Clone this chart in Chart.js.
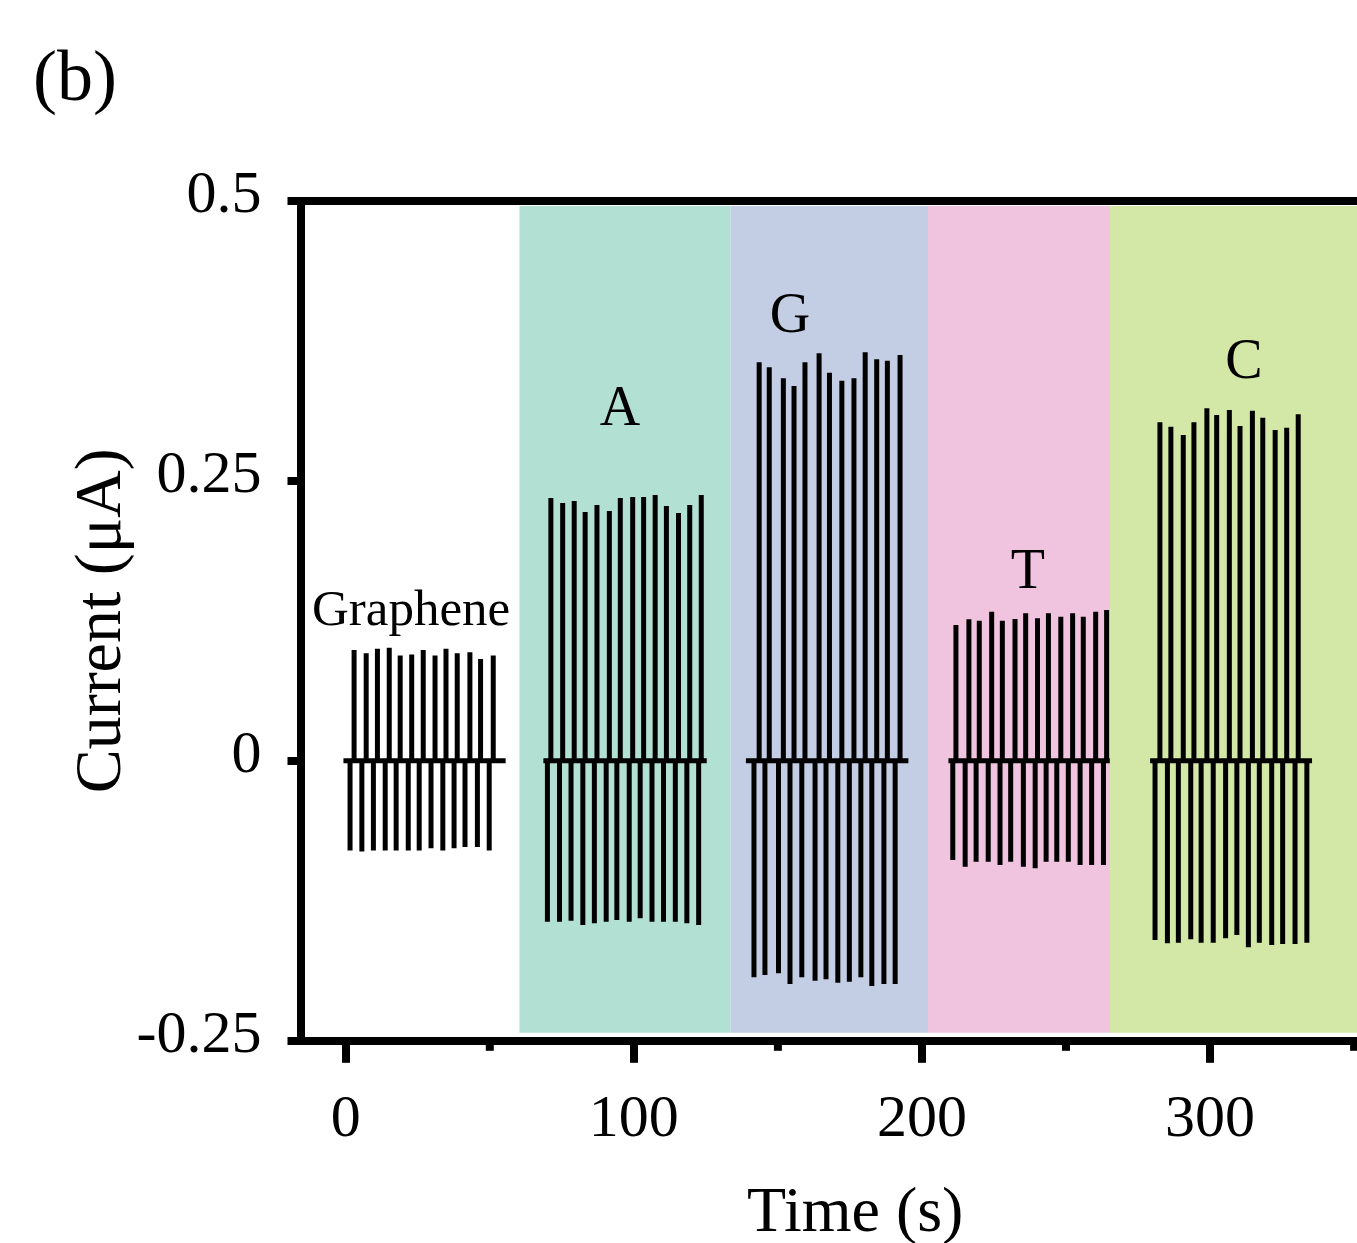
<!DOCTYPE html>
<html><head><meta charset="utf-8">
<script src="https://cdn.jsdelivr.net/npm/chart.js@4.4.0/dist/chart.umd.min.js"></script>
<style>html,body{margin:0;padding:0;overflow:hidden;background:#fff;width:1357px;height:1243px}canvas{display:block}</style>
</head><body><canvas id="c" width="1410" height="1243"></canvas>
<script>
const FONT = '"Liberation Serif", "Times New Roman", serif';

// ---- axis ticks ----
const xTickValues = [0, 100, 200, 300];
const xMinorTickValues = [50, 150, 250, 350];
const yTickValues = [-0.25, 0, 0.25, 0.5];
const yTickLabels = ['-0.25', '0', '0.25', '0.5'];

// ---- shaded analyte regions (time, s) ----
const regionNames = ['A', 'G', 'T', 'C'];
const regionStarts = [60.3, 133.6, 202.1, 265.3];
const regionEnds = [133.6, 202.1, 265.3, 400];
const regionTop = 0.4954;
const regionBottom = -0.2428;
const regionColors = ['#b2e0d2', '#c3cde3', '#f0c3df', '#d3e8a6'];

// ---- Graphene ----
const grBase = [-0.8, 55.5];
const grUpT = [2.9, 7.1, 11.0, 15.1, 18.9, 22.9, 26.9, 31.0, 34.8, 38.7, 43.1, 46.8, 51.2];
const grUpV = [0.099, 0.096, 0.100, 0.101, 0.094, 0.095, 0.099, 0.094, 0.100, 0.096, 0.097, 0.091, 0.094];
const grDnT = [1.5, 5.6, 9.6, 13.7, 17.5, 21.7, 25.5, 29.6, 33.7, 37.6, 41.4, 45.7, 49.8];
const grDnV = [-0.080, -0.081, -0.080, -0.080, -0.080, -0.080, -0.080, -0.078, -0.080, -0.078, -0.077, -0.077, -0.080];

// ---- A ----
const aBase = [68.6, 125.3];
const aUpT = [71.2, 75.3, 79.3, 83.1, 87.2, 91.5, 95.3, 99.6, 103.4, 107.4, 111.3, 115.5, 119.4, 123.4];
const aUpV = [0.2346, 0.2302, 0.2320, 0.2221, 0.2284, 0.2230, 0.2346, 0.2355, 0.2355, 0.2373, 0.2275, 0.2213, 0.2284, 0.2373];
const aDnT = [70.0, 74.2, 78.2, 82.3, 86.3, 90.4, 94.1, 98.4, 102.2, 106.3, 110.3, 114.4, 118.4, 122.5];
const aDnV = [-0.1437, -0.1437, -0.1428, -0.1466, -0.1451, -0.1437, -0.1421, -0.1437, -0.1406, -0.1437, -0.1437, -0.1437, -0.1451, -0.1466];

// ---- G ----
const gBase = [138.9, 195.3];
const gUpT = [143.5, 147.0, 151.9, 155.6, 159.4, 164.3, 167.9, 172.2, 176.4, 180.3, 184.3, 188.0, 192.4];
const gUpV = [0.3558, 0.3513, 0.3415, 0.3346, 0.3558, 0.3638, 0.3465, 0.3394, 0.3415, 0.3647, 0.3585, 0.3572, 0.3623];
const gDnT = [141.7, 145.5, 150.2, 154.2, 158.3, 162.9, 166.7, 170.8, 174.8, 178.8, 182.6, 186.8, 190.7];
const gDnV = [-0.1933, -0.1913, -0.1897, -0.1993, -0.1933, -0.1963, -0.1951, -0.1981, -0.1972, -0.1933, -0.2011, -0.1993, -0.1993];

// ---- T ----
const tBase = [209.2, 265.2];
const tUpT = [211.8, 216.3, 219.9, 224.2, 227.9, 232.3, 236.0, 240.1, 243.9, 248.2, 252.3, 256.0, 260.3, 264.1];
const tUpV = [0.1213, 0.1263, 0.1251, 0.1331, 0.1251, 0.1266, 0.1317, 0.1272, 0.1317, 0.1287, 0.1317, 0.1287, 0.1331, 0.1346];
const tDnT = [210.7, 215.0, 218.8, 223.0, 227.1, 230.8, 235.2, 239.3, 243.1, 246.8, 250.8, 254.9, 258.9, 263.0];
const tDnV = [-0.0886, -0.0946, -0.0901, -0.0901, -0.0930, -0.0901, -0.0946, -0.0960, -0.0901, -0.0901, -0.0901, -0.0930, -0.0930, -0.0930];

// ---- C ----
const cBase = [279.2, 335.4];
const cUpT = [282.6, 286.4, 290.7, 294.4, 298.9, 302.3, 306.7, 310.4, 314.7, 318.3, 322.6, 326.6, 330.6];
const cUpV = [0.3022, 0.2983, 0.2909, 0.3022, 0.3147, 0.3088, 0.3132, 0.2989, 0.3126, 0.3063, 0.2954, 0.2974, 0.3094];
const cDnT = [280.9, 285.2, 289.0, 293.3, 296.9, 301.1, 305.4, 309.3, 313.3, 317.1, 321.4, 325.2, 329.5, 333.6];
const cDnV = [-0.1600, -0.1629, -0.1624, -0.1594, -0.1624, -0.1624, -0.1585, -0.1555, -0.1665, -0.1624, -0.1645, -0.1636, -0.1636, -0.1624];

// ---- annotation labels ----
const annoText = ['Graphene', 'A', 'G', 'T', 'C'];
const annoX = [22.7, 95.2, 154.2, 236.8, 311.8];
const annoY = [0.1213, 0.2998, 0.3829, 0.1543, 0.3418];

function buildSeries(base, upT, upV, dnT, dnV) {
  const ev = upT.map((t, i) => ({ t, v: upV[i] }))
    .concat(dnT.map((t, i) => ({ t, v: dnV[i] })))
    .sort((a, b) => a.t - b.t);
  const pts = [{ x: base[0], y: 0 }];
  ev.forEach(e => { pts.push({ x: e.t, y: 0 }, { x: e.t, y: e.v }, { x: e.t, y: 0 }); });
  pts.push({ x: base[1], y: 0 });
  return pts;
}

const seriesDefs = [
  ['Graphene', grBase, grUpT, grUpV, grDnT, grDnV],
  ['A', aBase, aUpT, aUpV, aDnT, aDnV],
  ['G', gBase, gUpT, gUpV, gDnT, gDnV],
  ['T', tBase, tUpT, tUpV, tDnT, tDnV],
  ['C', cBase, cUpT, cUpV, cDnT, cDnV]
];

const datasets = seriesDefs.map(d => ({
  label: d[0],
  data: buildSeries(d[1], d[2], d[3], d[4], d[5]),
  showLine: true,
  borderColor: '#000',
  backgroundColor: '#000',
  borderWidth: 5,
  pointRadius: 0,
  borderCapStyle: 'butt',
  borderJoinStyle: 'miter',
  tension: 0,
  fill: false
}));

const X_MIN = -15.7, X_MAX = 369.4;

const deco = {
  id: 'deco',
  beforeDraw(chart) {
    const { ctx, chartArea: a, scales: { x, y } } = chart;
    ctx.save();
    ctx.fillStyle = '#fff';
    ctx.fillRect(0, 0, chart.width, chart.height);
    ctx.beginPath();
    ctx.rect(a.left, a.top, a.right - a.left, a.bottom - a.top);
    ctx.clip();
    const y0 = y.getPixelForValue(regionTop), y1 = y.getPixelForValue(regionBottom);
    regionStarts.forEach((s, i) => {
      const x0 = x.getPixelForValue(s), x1 = x.getPixelForValue(regionEnds[i]);
      ctx.fillStyle = regionColors[i];
      ctx.fillRect(x0, y0, x1 - x0, y1 - y0);
    });
    ctx.restore();
  },
  afterDraw(chart) {
    const { ctx, chartArea: a, scales: { x, y } } = chart;
    ctx.save();
    // minor x ticks
    ctx.strokeStyle = '#000';
    ctx.lineWidth = 8;
    xMinorTickValues.forEach(v => {
      const px = x.getPixelForValue(v);
      ctx.beginPath();
      ctx.moveTo(px, a.bottom);
      ctx.lineTo(px, a.bottom + 10);
      ctx.stroke();
    });
    // annotations
    ctx.fillStyle = '#000';
    ctx.textAlign = 'center';
    ctx.textBaseline = 'alphabetic';
    annoText.forEach((t, i) => {
      ctx.font = (i === 0 ? '51px ' : '56px ') + FONT;
      ctx.fillText(t, x.getPixelForValue(annoX[i]), y.getPixelForValue(annoY[i]));
    });
    // panel label
    ctx.textAlign = 'left';
    ctx.font = '72px ' + FONT;
    ctx.fillText('(b)', 33, 100);
    ctx.restore();
  }
};

new Chart(document.getElementById('c'), {
  type: 'scatter',
  data: { datasets },
  options: {
    responsive: false,
    animation: false,
    devicePixelRatio: 1,
    layout: { padding: 0 },
    plugins: { legend: { display: false }, tooltip: { enabled: false }, title: { display: false } },
    scales: {
      x: {
        type: 'linear', position: 'bottom', min: X_MIN, max: X_MAX,
        afterBuildTicks: s => { s.ticks = xTickValues.map(v => ({ value: v })); },
        afterFit: s => { s.height = 202.2; },
        ticks: { callback: v => String(v), font: { family: FONT, size: 60 }, color: '#000', padding: 21, maxRotation: 0, autoSkip: false },
        grid: { display: true, drawOnChartArea: false, drawTicks: true, tickLength: 22, tickWidth: 8, tickColor: '#000', lineWidth: 8, color: '#000' },
        border: { display: true, width: 8, color: '#000' },
        title: { display: true, text: 'Time (s)', font: { family: FONT, size: 64, lineHeight: 0.8 }, color: '#000', padding: { top: 0, bottom: 3 } }
      },
      x2: {
        type: 'linear', position: 'top', min: X_MIN, max: X_MAX,
        afterBuildTicks: s => { s.ticks = []; },
        afterFit: s => { s.height = 200.8; },
        ticks: { display: false },
        grid: { display: true, drawOnChartArea: false, drawTicks: false, lineWidth: 8, color: '#000' },
        border: { display: true, width: 8, color: '#000' }
      },
      y: {
        type: 'linear', position: 'left', min: -0.25, max: 0.5,
        afterBuildTicks: s => { s.ticks = yTickValues.map(v => ({ value: v })); },
        afterFit: s => { s.width = 300.5; },
        ticks: { callback: (v, i) => yTickLabels[i], font: { family: FONT, size: 60 }, color: '#000', padding: 26, labelOffset: -5 },
        grid: { display: true, drawOnChartArea: false, drawTicks: true, tickLength: 13, tickWidth: 8, tickColor: '#000', lineWidth: 8, color: '#000' },
        border: { display: true, width: 8, color: '#000' },
        title: { display: true, text: 'Current (μA)', font: { family: FONT, size: 66, lineHeight: 0.8 }, color: '#000', padding: { top: 76, bottom: 0 } }
      }
    }
  },
  plugins: [deco]
});
</script>
</body></html>
